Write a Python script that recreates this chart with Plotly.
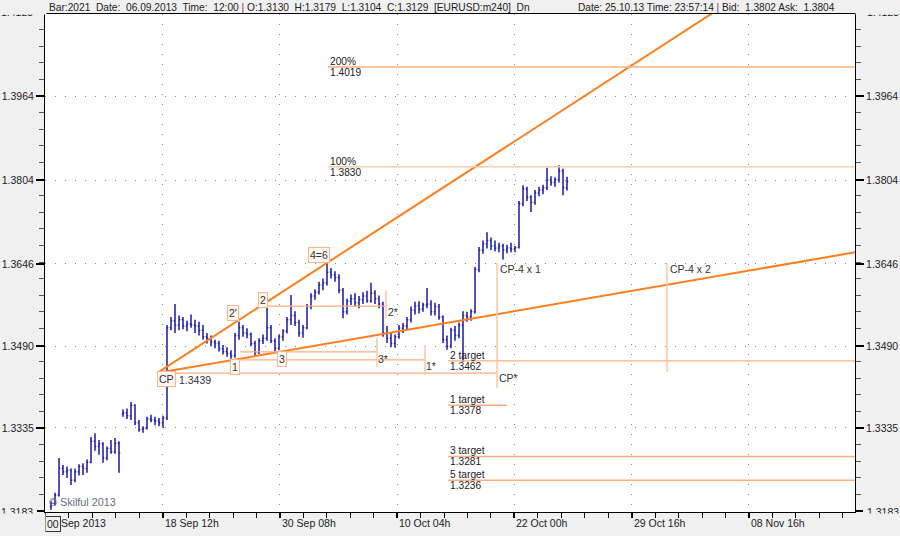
import plotly.graph_objects as go

# ---------------- data (4h EURUSD bars, bar index on x) ----------------
bar_index = list(range(1, 131))
opens = [1.3186,1.3192,1.3208,1.3258,1.3252,1.3255,1.3236,1.3252,1.3262,1.3258,
         1.3270,1.3310,1.3300,1.3305,1.3278,1.3296,1.3290,1.3306,1.3362,1.3364,
         1.3358,1.3378,1.3345,1.3332,1.3334,1.3352,1.3350,1.3348,1.3345,1.3354,
         1.3525,1.3538,1.3530,1.3540,1.3528,1.3532,1.3530,1.3528,1.3520,1.3508,
         1.3505,1.3498,1.3495,1.3485,1.3480,1.3476,1.3472,1.3510,1.3525,1.3515,
         1.3512,1.3495,1.3478,1.3500,1.3505,1.3525,1.3500,1.3486,1.3508,1.3518,
         1.3540,1.3548,1.3535,1.3515,1.3525,1.3565,1.3585,1.3592,1.3606,1.3610,
         1.3630,1.3625,1.3620,1.3596,1.3555,1.3575,1.3580,1.3572,1.3578,1.3585,
         1.3576,1.3590,1.3580,1.3570,1.3515,1.3505,1.3495,1.3508,1.3524,1.3528,
         1.3540,1.3558,1.3566,1.3560,1.3568,1.3570,1.3555,1.3565,1.3545,1.3502,
         1.3490,1.3520,1.3510,1.3530,1.3548,1.3545,1.3555,1.3635,1.3672,1.3684,
         1.3690,1.3680,1.3676,1.3680,1.3672,1.3676,1.3674,1.3677,1.3760,1.3788,
         1.3772,1.3762,1.3780,1.3786,1.3790,1.3805,1.3800,1.3806,1.3822,1.3790]
highs = [1.3196,1.3212,1.3278,1.3265,1.3262,1.3258,1.3258,1.3266,1.3268,1.3275,
         1.3318,1.3325,1.3312,1.3308,1.3300,1.3312,1.3316,1.3310,1.3370,1.3372,
         1.3384,1.3380,1.3350,1.3338,1.3356,1.3360,1.3356,1.3354,1.3358,1.3530,
         1.3545,1.3570,1.3548,1.3545,1.3538,1.3550,1.3540,1.3536,1.3530,1.3515,
         1.3510,1.3502,1.3500,1.3492,1.3488,1.3482,1.3515,1.3536,1.3530,1.3524,
         1.3516,1.3500,1.3505,1.3512,1.3564,1.3530,1.3505,1.3512,1.3522,1.3545,
         1.3587,1.3556,1.3540,1.3530,1.3570,1.3590,1.3598,1.3612,1.3618,1.3649,
         1.3638,1.3632,1.3626,1.3600,1.3580,1.3588,1.3590,1.3585,1.3592,1.3595,
         1.3610,1.3596,1.3586,1.3574,1.3528,1.3515,1.3512,1.3530,1.3534,1.3545,
         1.3565,1.3574,1.3575,1.3572,1.3600,1.3577,1.3572,1.3570,1.3548,1.3510,
         1.3525,1.3528,1.3535,1.3556,1.3555,1.3560,1.3640,1.3678,1.3690,1.3706,
         1.3696,1.3690,1.3686,1.3684,1.3682,1.3686,1.3680,1.3765,1.3795,1.3792,
         1.3776,1.3786,1.3792,1.3796,1.3828,1.3812,1.3810,1.3833,1.3826,1.3811]
lows = [1.3180,1.3188,1.3205,1.3246,1.3240,1.3227,1.3232,1.3245,1.3246,1.3250,
        1.3268,1.3292,1.3284,1.3269,1.3274,1.3286,1.3286,1.3250,1.3356,1.3352,
        1.3350,1.3340,1.3328,1.3326,1.3332,1.3346,1.3340,1.3338,1.3335,1.3350,
        1.3520,1.3515,1.3520,1.3522,1.3518,1.3525,1.3515,1.3510,1.3502,1.3495,
        1.3490,1.3486,1.3480,1.3474,1.3470,1.3466,1.3468,1.3502,1.3508,1.3505,
        1.3490,1.3472,1.3475,1.3494,1.3500,1.3496,1.3480,1.3482,1.3500,1.3514,
        1.3530,1.3528,1.3508,1.3506,1.3522,1.3560,1.3578,1.3588,1.3596,1.3605,
        1.3618,1.3612,1.3590,1.3543,1.3550,1.3568,1.3565,1.3562,1.3570,1.3572,
        1.3572,1.3570,1.3562,1.3508,1.3496,1.3488,1.3487,1.3504,1.3515,1.3522,
        1.3535,1.3550,1.3552,1.3555,1.3562,1.3548,1.3548,1.3540,1.3496,1.3483,
        1.3486,1.3500,1.3505,1.3460,1.3536,1.3538,1.3552,1.3630,1.3665,1.3675,
        1.3672,1.3670,1.3668,1.3654,1.3666,1.3668,1.3668,1.3675,1.3755,1.3765,
        1.3744,1.3758,1.3774,1.3778,1.3786,1.3794,1.3792,1.3800,1.3776,1.3785]
closes = [1.3192,1.3208,1.3258,1.3252,1.3255,1.3236,1.3252,1.3262,1.3258,1.3270,
          1.3310,1.3300,1.3305,1.3278,1.3296,1.3290,1.3306,1.3288,1.3364,1.3358,
          1.3378,1.3345,1.3332,1.3334,1.3352,1.3350,1.3348,1.3345,1.3354,1.3525,
          1.3538,1.3530,1.3540,1.3528,1.3532,1.3530,1.3528,1.3520,1.3508,1.3505,
          1.3498,1.3495,1.3485,1.3480,1.3476,1.3472,1.3510,1.3525,1.3515,1.3512,
          1.3495,1.3478,1.3500,1.3505,1.3525,1.3500,1.3486,1.3508,1.3518,1.3540,
          1.3548,1.3535,1.3515,1.3525,1.3565,1.3585,1.3592,1.3606,1.3610,1.3630,
          1.3625,1.3620,1.3596,1.3555,1.3575,1.3580,1.3572,1.3578,1.3585,1.3576,
          1.3590,1.3580,1.3570,1.3515,1.3505,1.3495,1.3508,1.3524,1.3528,1.3540,
          1.3558,1.3566,1.3560,1.3568,1.3570,1.3555,1.3565,1.3545,1.3502,1.3490,
          1.3520,1.3510,1.3530,1.3548,1.3545,1.3555,1.3635,1.3672,1.3684,1.3690,
          1.3680,1.3676,1.3680,1.3672,1.3676,1.3674,1.3677,1.3760,1.3788,1.3772,
          1.3762,1.3780,1.3786,1.3790,1.3805,1.3800,1.3806,1.3822,1.3790,1.3802]

y_tick_vals = [1.3335, 1.3490, 1.3646, 1.3804, 1.3964]
y_tick_text = ["1.3335", "1.3490", "1.3646", "1.3804", "1.3964"]
y_edge_labels = ["1.4123", "1.3183"]

x_tick_pos = [28.93, 58.24, 87.55, 116.86, 146.17, 175.48]
x_tick_text = ["18 Sep 12h", "30 Sep 08h", "10 Oct 04h", "22 Oct 00h", "29 Oct 16h", "08 Nov 16h"]
x_first_label = ["00", "Sep 2013"]

# chart points
cp_point = (27.5, 1.3439)
top_point = (70.25, 1.3649)      # 4=6
low_point = (58.0, 1.3479)       # 3

# horizontal levels: (label_top, label_bottom, price, x_start, x_end)
fib_levels = [("200%", "1.4019", 1.4019, 70.25, 202.0),
              ("100%", "1.3830", 1.3830, 70.25, 202.0)]
targets = [("2 target", "1.3462", 1.3462, 100.25, 202.0),
           ("1 target", "1.3378", 1.3378, 100.25, 115.0),
           ("3 target", "1.3281", 1.3281, 100.25, 202.0),
           ("5 target", "1.3236", 1.3236, 100.25, 202.0)]
plain_levels = [(1.3439, 27.5, 112.5),     # CP level to CP*
                (1.3464, 48.25, 94.5),     # to 1*
                (1.3479, 48.25, 82.5),     # to 3*
                (1.3566, 55.25, 84.75)]    # 2 to 2*
# vertical markers: (x, y0, y1)
vert_marks = [(82.5, 1.3450, 1.3507), (84.75, 1.3543, 1.3596), (94.5, 1.3435, 1.3492),
              (112.5, 1.3411, 1.3648), (155.0, 1.3441, 1.3648)]
# boxed wave labels: (text, x, price)
boxed = [("CP", 29.75, 1.3427), ("1", 47.1, 1.3450), ("2'", 46.6, 1.3552),
         ("2", 53.9, 1.3578), ("3", 58.75, 1.3465), ("4=6", 67.9, 1.3662)]
plain_text = [("2*", 86.5, 1.3554, "center"), ("3*", 84.0, 1.3466, "center"),
              ("1*", 96.0, 1.3452, "center"), ("CP*", 115.25, 1.3429, "center"),
              ("1.3439", 32.75, 1.3426, "left"),
              ("CP-4 x 1", 113.0, 1.3636, "left"), ("CP-4 x 2", 155.5, 1.3636, "left")]

# ---------------- figure ----------------
W, H = 900, 536
ML, MR, MT, MB = 45, 45, 14, 24
PW, PH = W - ML - MR, H - MT - MB
def pxx(px):
    return (px - ML) / PW
def pxy(py):
    return (H - MB - py) / PH

FONT = "Liberation Sans, Arial, sans-serif"
BAR = "#1A1AAA"
TREND = "#FF7F1E"
LEVEL = "#FFAE80"
LEVEL_LIGHT = "#FFCBA8"
TXT = "#222222"

fig = go.Figure()
fig.add_trace(go.Ohlc(x=bar_index, open=opens, high=highs, low=lows, close=closes,
                      increasing=dict(line=dict(color=BAR, width=1.5)),
                      decreasing=dict(line=dict(color=BAR, width=1.5)),
                      tickwidth=0.3, hoverinfo="skip", showlegend=False))

x_end = 205.0
for p2 in (top_point, low_point):
    slope = (p2[1] - cp_point[1]) / (p2[0] - cp_point[0])
    fig.add_trace(go.Scatter(x=[cp_point[0], x_end],
                             y=[cp_point[1], cp_point[1] + slope * (x_end - cp_point[0])],
                             mode="lines", line=dict(color=TREND, width=2),
                             hoverinfo="skip", showlegend=False))

fig.add_trace(go.Scatter(x=[0], y=[1.35], yaxis="y2", mode="markers",
                         marker=dict(opacity=0), hoverinfo="skip", showlegend=False))

shapes = []
annotations = []
for top, bot, price, x0, x1 in fib_levels + targets:
    col = LEVEL_LIGHT if top == "100%" else LEVEL
    shapes.append(dict(type="line", xref="x", yref="y", x0=x0, x1=x1, y0=price, y1=price,
                       line=dict(color=col, width=1.4)))
    annotations.append(dict(x=x0 + 0.3, y=price, xref="x", yref="y", text=top, showarrow=False,
                            xanchor="left", yanchor="bottom", height=11, yshift=-1,
                            font=dict(size=10.2, color=TXT), borderpad=0))
    annotations.append(dict(x=x0 + 0.3, y=price, xref="x", yref="y", text=bot, showarrow=False,
                            xanchor="left", yanchor="top", height=11, yshift=1,
                            font=dict(size=10.2, color=TXT), borderpad=0))
for price, x0, x1 in plain_levels:
    shapes.append(dict(type="line", xref="x", yref="y", x0=x0, x1=x1, y0=price, y1=price,
                       line=dict(color=LEVEL, width=1.2)))
for x, y0, y1 in vert_marks:
    shapes.append(dict(type="line", xref="x", yref="y", x0=x, x1=x, y0=y0, y1=y1,
                       line=dict(color=LEVEL_LIGHT, width=1.6)))

for text, x, y in boxed:
    annotations.append(dict(x=x, y=y, xref="x", yref="y", text=text, showarrow=False,
                            xanchor="center", yanchor="middle",
                            font=dict(size=10.5, color="#333"), bgcolor="#FFF7F2",
                            bordercolor="#FFB48A", borderwidth=1, borderpad=1))
for text, x, y, anc in plain_text:
    annotations.append(dict(x=x, y=y, xref="x", yref="y", text=text, showarrow=False,
                            xanchor=anc, yanchor="middle", font=dict(size=10.5, color="#333"),
                            borderpad=0))

def paper_text(px, py, text, xanchor="left", size=10.5, color=TXT, **kw):
    d = dict(x=pxx(px), y=pxy(py), xref="paper", yref="paper", text=text, showarrow=False,
             xanchor=xanchor, yanchor="middle", font=dict(size=size, color=color), borderpad=0)
    d.update(kw)
    return d

# x tick labels
for pos, txt in zip(x_tick_pos, x_tick_text):
    annotations.append(dict(x=pos, y=pxy(523), xref="x", yref="paper", text=txt,
                            showarrow=False, xanchor="left", yanchor="middle", xshift=1,
                            font=dict(size=10.5, color=TXT), borderpad=0))
annotations.append(paper_text(45, 524, x_first_label[0], bordercolor="#333", borderwidth=1,
                              borderpad=1))
annotations.append(paper_text(60, 523, x_first_label[1]))

# watermark
annotations.append(paper_text(48, 502, "© Skilful 2013", size=10.8, color="#62707E"))

# edge y labels (partly hidden)
annotations.append(paper_text(34, 12, y_edge_labels[0], xanchor="right"))
annotations.append(paper_text(866, 12, y_edge_labels[0]))
annotations.append(paper_text(34, 512, y_edge_labels[1], xanchor="right"))
annotations.append(paper_text(866, 512, y_edge_labels[1]))
# covers (grey background strips clipping those labels)
for x0, w, y0, h in [(0, 45, 0, 13), (855, 45, 0, 13), (0, 44, 513, 23), (856, 44, 513, 23)]:
    annotations.append(dict(x=pxx(x0), y=pxy(y0), xref="paper", yref="paper", text="\u00a0",
                            showarrow=False, xanchor="left", yanchor="top", width=w, height=h,
                            bgcolor="#F0F0F0", borderpad=0, font=dict(size=8)))

# header
sep = "<span style='color:#7A2A7A'>|</span>"
nb = "\u00a0"
hdr_left = (f"Bar:2021{nb} Date:{nb} 06.09.2013{nb} Time:{nb} 12:00 {sep} O:1.3130{nb} H:1.3179{nb} "
            f"L:1.3104{nb} C:1.3129{nb} [EURUSD:m240]{nb} Dn")
hdr_right = f"Date: 25.10.13 Time: 23:57:14 {sep} Bid:{nb} 1.3802 Ask:{nb} 1.3804"
annotations.append(paper_text(48, 7, hdr_left, size=10.2))
annotations.append(paper_text(836, 7, hdr_right, xanchor="right", size=10.1))

# tick marks for the edge labels
for px0, px1 in [(37, 45), (855, 863)]:
    shapes.append(dict(type="line", xref="paper", yref="paper", x0=pxx(px0), x1=pxx(px1),
                       y0=pxy(511), y1=pxy(511), line=dict(color="#000", width=2)))

grid = dict(showgrid=True, gridcolor="#8A8A8A", gridwidth=1, griddash="1px,9px")
y_common = dict(range=[1.31757, 1.41194], tickmode="array", tickvals=y_tick_vals,
                ticktext=y_tick_text, ticks="outside", ticklen=8, tickwidth=2, tickcolor="#000",
                tickfont=dict(size=10.5, color=TXT, family=FONT), showline=True,
                linecolor="#000", linewidth=1, zeroline=False, automargin=False, fixedrange=True,
                minor=dict(tickmode="linear", tick0=1.3964, dtick=0.003146, ticks="outside",
                           ticklen=5, tickcolor="#555", tickwidth=1, showgrid=False))

fig.update_layout(
    width=W, height=H, margin=dict(l=ML, r=MR, t=MT, b=MB, autoexpand=False),
    paper_bgcolor="#F0F0F0", plot_bgcolor="#FFFFFF",
    font=dict(family=FONT, size=10.5, color=TXT),
    showlegend=False,
    xaxis=dict(range=[-0.5, 202.0], tickmode="array", tickvals=x_tick_pos, showticklabels=False,
               ticks="outside", ticklen=5, tickwidth=1.5, tickcolor="#000", showline=True,
               linecolor="#000", linewidth=1, mirror=True, zeroline=False, automargin=False,
               rangeslider=dict(visible=False), fixedrange=True,
               minor=dict(tickmode="linear", tick0=x_tick_pos[0], dtick=5.862, ticks="outside",
                          ticklen=5, tickcolor="#000", tickwidth=1, showgrid=False),
               **grid),
    yaxis=dict(side="left", **y_common, **grid),
    yaxis2=dict(side="right", overlaying="y", showgrid=False, **y_common),
    shapes=shapes, annotations=annotations,
)

fig.write_html("out.html", config={"displayModeBar": False},
               post_script="document.body.style.margin='0';document.body.style.overflow='hidden';")
